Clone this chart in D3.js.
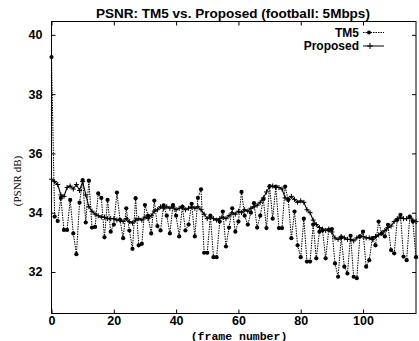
<!DOCTYPE html>
<html>
<head>
<meta charset="utf-8">
<script src="https://cdn.jsdelivr.net/npm/d3@7"></script>
<style>
  html, body { margin: 0; padding: 0; background: #fff; }
  svg { display: block; }
</style>
</head>
<body>
<svg id="chart" width="419" height="341"></svg>
<script>
// PSNR per frame, football sequence at 5 Mbps
const tm5 = [
  39.25, 33.87, 33.72, 34.50, 33.42, 33.42, 34.43, 33.30, 32.60, 34.34,
  35.10, 33.67, 35.08, 33.50, 33.52, 34.65, 34.50, 33.17, 34.43, 33.36,
  33.60, 34.68, 33.76, 33.14, 34.15, 33.40, 32.78, 34.49, 32.90, 32.95,
  34.26, 33.90, 33.30, 34.41, 33.55, 33.40, 34.25, 33.90, 33.30, 34.26,
  33.90, 33.20, 34.20, 33.40, 33.60, 34.30, 33.20, 34.50, 34.79, 32.65,
  32.65, 33.90, 32.50, 32.50, 33.70, 34.04, 32.86, 33.50, 34.15, 33.36,
  33.70, 34.70, 33.90, 33.60, 34.00, 34.32, 33.50, 33.90, 34.45, 33.48,
  34.90, 33.80, 34.88, 33.48, 33.48, 34.88, 34.43, 33.14, 34.04, 32.90,
  32.50, 33.80, 32.35, 32.35, 33.60, 32.46, 33.36, 33.40, 32.46, 33.42,
  33.45, 32.29, 31.84, 33.17, 32.18, 31.95, 33.22, 31.84, 31.79, 33.20,
  33.36, 32.18, 32.40, 33.14, 32.90, 33.70, 33.30, 33.20, 33.59, 32.74,
  32.63, 33.76, 33.93, 32.52, 32.40, 33.87, 33.70, 32.50
];
const proposed = [
  35.13, 35.05, 34.95, 34.60, 34.55, 34.85, 34.90, 34.80, 34.95, 34.75,
  35.05, 34.60, 34.20, 34.05, 33.95, 33.90, 33.85, 33.85, 33.80, 33.80,
  33.80, 33.75, 33.75, 33.70, 33.80, 33.70, 33.65, 33.75, 33.80, 33.75,
  33.85, 33.80, 33.90, 34.05, 34.10, 34.20, 34.15, 34.20, 34.15, 34.20,
  34.10, 34.15, 34.20, 34.10, 34.15, 34.20, 34.15, 34.20, 34.10, 33.95,
  33.80, 33.85, 33.80, 33.75, 33.80, 33.85, 33.80, 33.90, 34.00, 33.95,
  34.05, 34.00, 34.10, 34.05, 34.15, 34.20, 34.25, 34.35, 34.50, 34.70,
  34.88, 34.90, 34.85, 34.85, 34.80, 34.50, 34.45, 34.55, 34.45, 34.35,
  34.40, 34.35, 34.10, 34.00, 33.75, 33.60, 33.50, 33.45, 33.40, 33.45,
  33.35, 33.15, 33.10, 33.20, 33.15, 33.10, 33.10, 33.05, 33.15, 33.20,
  33.20, 33.15, 33.15, 33.10, 33.20, 33.25, 33.30, 33.40, 33.50, 33.55,
  33.70, 33.80, 33.85, 33.80, 33.80, 33.85, 33.75, 33.70
];
const xTicks = [0, 20, 40, 60, 80, 100];
const yTicks = [32, 34, 36, 38, 40];
const seriesNames = ["TM5", "Proposed"];
const titleText = "PSNR: TM5 vs. Proposed (football: 5Mbps)";
const xLabel = "(frame number)";
const yLabel = "(PSNR dB)";

const svg = d3.select("#chart");
const plotL = 51.5, plotR = 416, plotT = 21.5, plotB = 313.5;

const x = d3.scaleLinear().domain([0, 117]).range([plotL, plotR]);
const y = d3.scaleLinear().domain([30.6, 40.45]).range([plotB, plotT]);

const sans = "'Liberation Sans', Arial, Helvetica, sans-serif";

// frame box
svg.append("rect")
  .attr("x", plotL).attr("y", plotT)
  .attr("width", plotR - plotL).attr("height", plotB - plotT)
  .attr("fill", "none").attr("stroke", "#000").attr("stroke-width", 1);

// inward ticks on all four sides
const tickLen = 4;
const bottomAxis = d3.axisBottom(x).tickValues(xTicks).tickSize(-tickLen).tickPadding(3).tickFormat(d3.format("d"));
const topAxis = d3.axisTop(x).tickValues(xTicks).tickSize(-tickLen).tickFormat("");
const leftAxis = d3.axisLeft(y).tickValues(yTicks).tickSize(-tickLen).tickPadding(9).tickFormat(d3.format("d"));
const rightAxis = d3.axisRight(y).tickValues(yTicks).tickSize(-tickLen).tickFormat("");

function styleAxis(g) {
  g.select(".domain").remove();
  g.selectAll(".tick line").attr("stroke", "#000").attr("stroke-width", 1);
  g.selectAll(".tick text")
    .attr("fill", "#000")
    .style("font-family", sans)
    .style("font-weight", "bold")
    .style("font-size", "12.5px");
}
svg.append("g").attr("transform", `translate(0,${plotB})`).call(bottomAxis).call(styleAxis);
svg.append("g").attr("transform", `translate(0,${plotT})`).call(topAxis).call(styleAxis);
svg.append("g").attr("transform", `translate(${plotL},0)`).call(leftAxis).call(styleAxis);
svg.append("g").attr("transform", `translate(${plotR},0)`).call(rightAxis).call(styleAxis);

// title and axis labels
svg.append("text")
  .attr("x", 233).attr("y", 18)
  .attr("text-anchor", "middle")
  .style("font-family", sans).style("font-weight", "bold").style("font-size", "13.5px")
  .text(titleText);

svg.append("text")
  .attr("x", 239).attr("y", 339.5)
  .attr("text-anchor", "middle")
  .style("font-family", "'Liberation Mono', 'Courier New', monospace")
  .style("font-weight", "bold").style("font-size", "11.5px")
  .text(xLabel);

svg.append("text")
  .attr("transform", "translate(21,181) rotate(-90)")
  .attr("text-anchor", "middle")
  .style("font-family", "'Liberation Serif', 'Times New Roman', serif")
  .style("font-size", "11px")
  .text(yLabel);

// series
const plot = svg.append("g");
const line = d3.line().x((d, i) => x(i)).y(d => y(d));

function plusPath(cx, cy, s) {
  return `M${cx - s},${cy}H${cx + s}M${cx},${cy - s}V${cy + s}`;
}

// Proposed: solid line with plus markers
plot.append("path")
  .datum(proposed)
  .attr("d", line)
  .attr("fill", "none").attr("stroke", "#000").attr("stroke-width", 1.1);
plot.append("path")
  .attr("d", proposed.map((d, i) => plusPath(x(i), y(d), 2.5)).join(""))
  .attr("stroke", "#000").attr("stroke-width", 1).attr("fill", "none");

// TM5: dotted line with filled dots
plot.append("path")
  .datum(tm5)
  .attr("d", line)
  .attr("fill", "none").attr("stroke", "#000").attr("stroke-width", 1)
  .attr("stroke-dasharray", "1.5,1");
plot.selectAll("circle.tm5")
  .data(tm5)
  .join("circle")
  .attr("class", "tm5")
  .attr("cx", (d, i) => x(i)).attr("cy", d => y(d))
  .attr("r", 2.1).attr("fill", "#000");

// legend
const legend = svg.append("g");
const legendRows = [
  { name: seriesNames[0], yy: 32.5, dash: "1.5,1", marker: "dot" },
  { name: seriesNames[1], yy: 46, dash: null, marker: "plus" }
];
legendRows.forEach(r => {
  legend.append("text")
    .attr("x", 359).attr("y", r.yy + 4.3)
    .attr("text-anchor", "end")
    .style("font-family", sans).style("font-weight", "bold").style("font-size", "12px")
    .text(r.name);
  legend.append("line")
    .attr("x1", 363).attr("x2", 384).attr("y1", r.yy).attr("y2", r.yy)
    .attr("stroke", "#000").attr("stroke-width", 1)
    .attr("stroke-dasharray", r.dash);
  if (r.marker === "dot") {
    legend.append("circle").attr("cx", 369).attr("cy", r.yy).attr("r", 2).attr("fill", "#000");
  } else {
    legend.append("path").attr("d", plusPath(370, r.yy, 3)).attr("stroke", "#000").attr("stroke-width", 1);
  }
});
</script>
</body>
</html>
